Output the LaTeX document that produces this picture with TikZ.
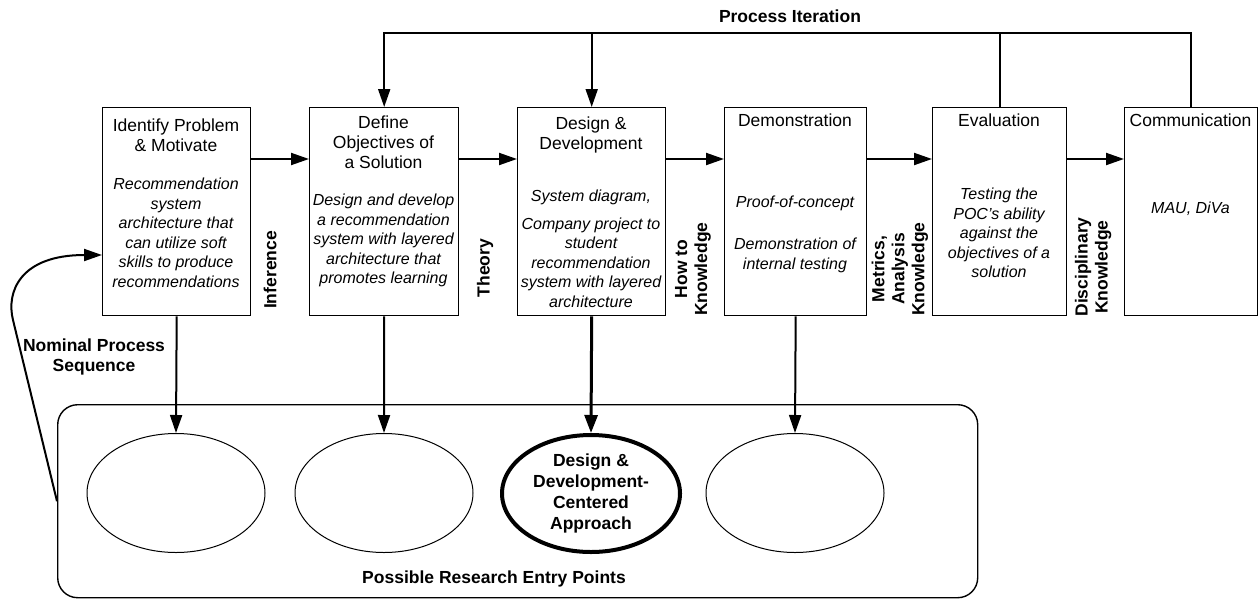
\documentclass[tikz,border=0pt]{standalone}
\usepackage{fontspec}
\setmainfont{Liberation Sans}
\usetikzlibrary{arrows.meta,shapes.geometric}
\begin{document}
\begin{tikzpicture}[x=1pt,y=-1pt,
  box/.style={draw,line width=1.4pt,inner sep=0pt,anchor=north west,minimum height=208pt},
  ttl/.style={font=\fontsize{17.5}{20}\selectfont,align=center,inner sep=0pt},
  body/.style={font=\fontsize{16}{19.5}\selectfont\itshape,align=center,inner sep=0pt},
  lbl/.style={font=\fontsize{17.5}{20}\selectfont\bfseries,align=center,inner sep=0pt},
  conn/.style={line width=2pt},
  arr/.style={line width=2pt,-{Triangle[length=18pt,width=12pt]}},
  ell/.style={draw,ellipse,line width=1pt,minimum width=178pt,minimum height=119pt,inner sep=0pt}]
\useasboundingbox (0,0) rectangle (1258,600);
% boxes
\node[box,minimum width=148pt] (b1) at (102,107) {};
\node[box,minimum width=149pt] (b2) at (309,107) {};
\node[box,minimum width=148pt] (b3) at (517,107) {};
\node[box,minimum width=142pt] (b4) at (724,107) {};
\node[box,minimum width=134pt] (b5) at (932,107) {};
\node[box,minimum width=133pt] (b6) at (1124,107) {};
% box texts
\node[ttl] (t1) at (176,135) {Identify Problem\\\& Motivate};
\node[body] (d1) at (176,233) {Recommendation\\system\\architecture that\\can utilize soft\\skills to produce\\recommendations};
\node[ttl] (t2) at (383.5,142) {Define\\Objectives of\\a Solution};
\node[body] (d2) at (383.5,240.5) {Design and develop\\a recommendation\\system with layered\\architecture that\\promotes learning};
\node[ttl] (t3) at (591,135) {Design \&\\Development};
\node[body] (d3a) at (591,197) {System diagram,};
\node[body] (d3b) at (591,262.5) {Company project to\\student\\recommendation\\system with layered\\architecture};
\node[ttl] (t4) at (795,120) {Demonstration};
\node[body] (d4a) at (795,203) {Proof-of-concept};
\node[body] (d4b) at (795,255.5) {Demonstration of\\internal testing};
\node[ttl] (t5) at (999,120) {Evaluation};
\node[body] (d5) at (999,233) {Testing the\\POC's ability\\against the\\objectives of a\\solution};
\node[ttl] (t6) at (1190.5,120) {Communication};
\node[body] (d6) at (1190.5,209) {MAU, DiVa};
% rotated labels
\node[lbl,rotate=90] (l1) at (270,270) {Inference};
\node[lbl,rotate=90] (l2) at (485,268) {Theory};
\node[lbl,rotate=90] (l3) at (693,269) {How to\\Knowledge};
\node[lbl,rotate=90] (l4) at (900,269) {Metrics,\\Analysis\\Knowledge};
\node[lbl,rotate=90] (l5) at (1093,267) {Disciplinary\\Knowledge};
% other labels
\node[lbl] (pi) at (790,16) {Process Iteration};
\node[lbl] (nps) at (94,357) {Nominal Process\\Sequence};
% container and ellipses
\node[draw,rounded corners=20pt,line width=1.4pt,inner sep=0pt,anchor=north west,minimum width=920pt,minimum height=193pt] (cont) at (57,404) {};
\node[lbl] (pre) at (494,579) {Possible Research Entry Points};
\node[ell] (e1) at (176,493) {};
\node[ell] (e2) at (384,493) {};
\node[ell,line width=4pt,font=\fontsize{17.5}{21}\selectfont\bfseries,align=center,minimum height=117pt] (e3) at (591,493.5) {Design \&\\Development-\\Centered\\Approach};
\node[ell] (e4) at (795,493) {};
% horizontal arrows
\coordinate (h) at (0,159);
\draw[arr] (b1.east |- h) -- (b2.west |- h);
\draw[arr] (b2.east |- h) -- (b3.west |- h);
\draw[arr] (b3.east |- h) -- (b4.west |- h);
\draw[arr] (b4.east |- h) -- (b5.west |- h);
\draw[arr] (b5.east |- h) -- (b6.west |- h);
% process iteration loop
\coordinate (top) at (0,33);
\draw[arr] (b6.north) -- (b6.north |- top) -- (b2.north |- top) -- (b2.north);
\draw[conn] (b5.north) -- (b5.north |- top);
\draw[arr] (b3.north |- top) -- (b3.north);
% entry point arrows
\draw[arr] (b1.south) -- (e1.north);
\draw[arr] (b2.south) -- (e2.north);
\draw[line width=3pt,-{Triangle[length=18pt,width=13pt]}] (b3.south) -- (e3.north);
\draw[arr] (b4.south) -- (e4.north);
% nominal process sequence curve
\coordinate (cs) at (13,320);
\coordinate (ce) at (0,255);
\draw[arr] (cont.west) -- (cs) .. controls (6,292) and (20,255) .. (b1.west |- ce);
\end{tikzpicture}
\end{document}
